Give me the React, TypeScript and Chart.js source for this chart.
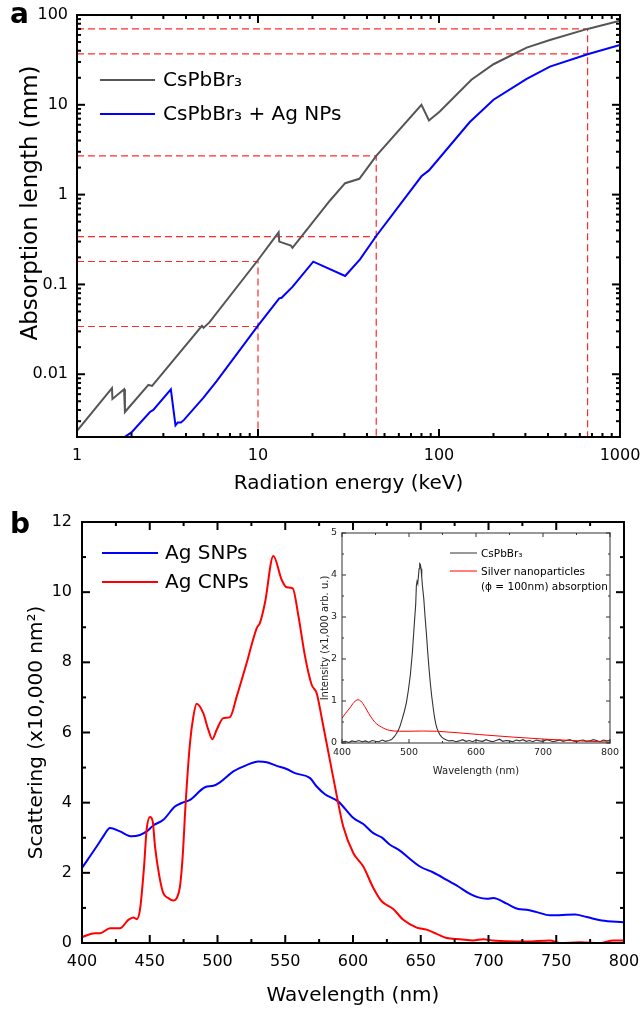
import React, { useEffect, useRef } from 'react';
import { Chart, registerables } from 'chart.js';

Chart.register(...registerables);

const FONT = "'DejaVu Sans', Verdana, sans-serif";

// ---------------- Panel a: absorption length ----------------
const energyPure = [1, 1.56, 1.57, 1.82, 1.84, 2.48, 2.6, 4.9, 5.0, 5.4, 10, 13.0, 13.1, 15.2, 15.5, 25, 30.3, 36.3, 45, 80, 88, 101, 151, 200, 305, 410, 662, 1000];
const lengthPure = [0.00234, 0.007, 0.0053, 0.0068, 0.0038, 0.0076, 0.0074, 0.0345, 0.0328, 0.038, 0.187, 0.38, 0.3, 0.27, 0.256, 0.86, 1.34, 1.5, 2.7, 10.0, 6.7, 8.43, 19.0, 28.3, 43.4, 52.7, 70, 86.5];
const energyAg = [1.8, 2.0, 2.53, 2.64, 3.3, 3.5, 3.6, 3.75, 3.9, 5.0, 5.91, 10, 13.1, 13.5, 15.5, 20.2, 30.3, 36.6, 45, 80, 88, 148, 200, 305, 410, 662, 1000];
const lengthAg = [0.00195, 0.00225, 0.0038, 0.004, 0.0068, 0.0027, 0.0029, 0.0029, 0.0031, 0.0055, 0.0084, 0.0347, 0.0699, 0.071, 0.094, 0.179, 0.124, 0.19, 0.346, 1.6, 1.86, 6.43, 11.4, 19.4, 26.6, 36.6, 46.4];
const guideEnergies = [10, 45, 662];
const guidePure = [0.18, 2.7, 70];
const guideAg = [0.034, 0.34, 37];
const aXMin = 1, aXMax = 1000, aYMin = 0.002, aYMax = 100;
const aXTicks = [1, 10, 100, 1000];
const aYTicks = [0.01, 0.1, 1, 10, 100];
const minorDigits = [2, 3, 4, 5, 6, 7, 8, 9];
const aXDecades = [1, 10, 100];
const aYDecades = [0.001, 0.01, 0.1, 1, 10];

// ---------------- Panel b: scattering ----------------
const wlSNP = [400, 410.8, 415.7, 420.7, 428, 436.7, 442.8, 447.7, 452.6, 460, 468.6, 473.6, 479.7, 490.8, 496.9, 501.8, 511.7, 521.5, 530.1, 536.3, 543.6, 551, 557.2, 568.3, 573.2, 579.3, 589.2, 600.3, 607.6, 615, 621.2, 627.3, 633.5, 649.4, 659.3, 669.1, 677.7, 686.3, 692.5, 698.7, 703.5, 713.4, 722, 728.2, 735.6, 745.4, 763.8, 772.5, 783.5, 799.5];
const scatSNP = [2.14, 2.75, 3.04, 3.28, 3.18, 3.04, 3.08, 3.18, 3.35, 3.51, 3.89, 3.99, 4.08, 4.44, 4.48, 4.58, 4.89, 5.07, 5.17, 5.15, 5.05, 4.96, 4.84, 4.7, 4.46, 4.24, 4.03, 3.56, 3.39, 3.13, 3.01, 2.8, 2.66, 2.18, 2.01, 1.8, 1.61, 1.4, 1.3, 1.26, 1.28, 1.12, 0.97, 0.95, 0.88, 0.79, 0.81, 0.74, 0.64, 0.59];
const wlCNP = [400, 409.6, 413.3, 420.7, 428, 434.2, 437.9, 440.4, 442.8, 445.8, 447.7, 450.2, 452.2, 453.9, 457.1, 460, 463.7, 467.4, 469.9, 472.3, 474.3, 476.5, 479.7, 482.2, 484.6, 489.5, 493.2, 496.2, 499.4, 504.3, 509.2, 514.2, 521.5, 528.9, 531.4, 535, 541.2, 547.4, 551, 555.5, 559.6, 564.6, 569.5, 573.2, 577, 583, 588, 592.8, 600.3, 607.6, 615, 621.2, 629.7, 637.1, 647, 654.3, 661.7, 669.1, 678.9, 688.7, 696.1, 703.5, 713.4, 728.2, 745.4, 752.8, 767.5, 782.3, 792.2, 799.5];
const scatCNP = [0.17, 0.28, 0.28, 0.42, 0.42, 0.66, 0.73, 0.68, 0.95, 2.18, 3.23, 3.59, 3.46, 2.75, 1.9, 1.42, 1.28, 1.21, 1.28, 1.61, 2.47, 3.99, 5.7, 6.46, 6.82, 6.55, 6.08, 5.81, 6.08, 6.41, 6.44, 7.03, 7.98, 8.97, 9.13, 9.69, 11.03, 10.35, 10.14, 10.11, 9.35, 8.17, 7.36, 7.12, 6.4, 5.2, 4.2, 3.32, 2.56, 2.18, 1.57, 1.19, 0.97, 0.66, 0.44, 0.38, 0.26, 0.14, 0.11, 0.07, 0.11, 0.07, 0.05, 0.04, 0.07, 0.0, 0.02, 0.0, 0.07, 0.07];
const bXTicks = [400, 450, 500, 550, 600, 650, 700, 750, 800];
const bXMinor = [425, 475, 525, 575, 625, 675, 725, 775];
const bYTicks = [0, 2, 4, 6, 8, 10, 12];
const bYMinor = [1, 3, 5, 7, 9, 11];

// ---------------- Inset ----------------
const wlPL = [400, 405, 410, 415, 420, 425, 430, 435, 440, 445, 450, 455, 460, 465, 470,
  474, 478, 481, 484, 487, 490, 493, 496, 499, 502, 505, 508, 510, 511, 512, 513, 514, 515, 516, 517,
  518, 519, 520, 522, 524, 526, 528, 530, 532, 534, 536, 538, 540, 542, 544, 546, 549, 552, 556, 560,
  565, 570, 575, 580, 585, 590, 595, 600, 605, 610, 615, 620, 625, 630, 635, 640, 645, 650, 655, 660,
  665, 670, 675, 680, 685, 690, 695, 700, 705, 710, 715, 720, 725, 730, 735, 740, 745, 750, 755, 760,
  765, 770, 775, 780, 785, 790, 795, 800];
const intPL = [0.02, 0.04, 0.01, 0.05, 0.03, 0.06, 0.03, 0.05, 0.02, 0.06, 0.04, 0.03, 0.07, 0.04, 0.06,
  0.08, 0.15, 0.22, 0.3, 0.42, 0.58, 0.75, 0.95, 1.25, 1.62, 2.15, 2.85, 3.3, 3.75, 3.85, 3.8, 3.95, 4.15, 4.27, 4.25,
  4.15, 3.95, 3.75, 3.45, 3.0, 2.6, 2.15, 1.75, 1.4, 1.1, 0.85, 0.62, 0.45, 0.34, 0.26, 0.2, 0.14, 0.1, 0.07, 0.05,
  0.06, 0.03, 0.05, 0.08, 0.04, 0.06, 0.03, 0.07, 0.05, 0.04, 0.08, 0.05, 0.03, 0.06, 0.09, 0.04, 0.06, 0.05, 0.03, 0.07,
  0.05, 0.08, 0.04, 0.06, 0.03, 0.07, 0.05, 0.04, 0.08, 0.06, 0.03, 0.05, 0.07, 0.04, 0.06, 0.08, 0.05, 0.03, 0.06, 0.07,
  0.04, 0.05, 0.08, 0.06, 0.03, 0.07, 0.05, 0.06];
const wlAbs = [400, 405, 411.5, 418, 423.9, 428, 433.9, 440, 446.3, 452, 458.9, 465, 471.3, 478, 486.2, 500, 520, 541, 546, 575.9, 605.7, 655.5, 705.4, 755, 800];
const absAg = [0.59, 0.7, 0.83, 0.97, 1.03, 1.0, 0.87, 0.7, 0.55, 0.45, 0.38, 0.33, 0.3, 0.285, 0.28, 0.28, 0.285, 0.28, 0.275, 0.24, 0.2, 0.14, 0.09, 0.05, 0.02];
const iXTicks = [400, 500, 600, 700, 800];
const iXMinor = [450, 550, 650, 750];
const iYTicks = [0, 1, 2, 3, 4, 5];
const iYMinor = [0.5, 1.5, 2.5, 3.5, 4.5];

const zip = (xs: number[], ys: number[]) => xs.map((x, i) => ({ x, y: ys[i] }));
const logMinor = (decades: number[], lo: number, hi: number) => {
  const out: number[] = [];
  decades.forEach((d) => minorDigits.forEach((m) => { const v = d * m; if (v >= lo * 0.999 && v <= hi * 1.001) out.push(v); }));
  return out;
};

type FrameCfg = {
  xMajor: number[]; xMinor: number[]; yMajor: number[]; yMinor: number[];
  major: number; minor: number; width: number; color: string;
  extra?: (chart: any) => void;
};

function framePlugin(cfg: FrameCfg) {
  return {
    id: 'frameTicks',
    afterDraw(chart: any) {
      const ctx = chart.ctx as CanvasRenderingContext2D;
      const area = chart.chartArea;
      const left = area.left, right = area.right, top = area.top, bottom = area.bottom;
      const xs = chart.scales.x, ys = chart.scales.y;
      const w = cfg.width;
      ctx.save();
      ctx.setLineDash([]);
      ctx.fillStyle = cfg.color;
      const vx = (vals: number[], len: number) => {
        for (const v of vals) {
          const p = xs.getPixelForValue(v);
          ctx.fillRect(p - w / 2, bottom - len, w, len);
          ctx.fillRect(p - w / 2, top, w, len);
        }
      };
      const vy = (vals: number[], len: number) => {
        for (const v of vals) {
          const p = ys.getPixelForValue(v);
          ctx.fillRect(left, p - w / 2, len, w);
          ctx.fillRect(right - len, p - w / 2, len, w);
        }
      };
      vx(cfg.xMajor, cfg.major); vx(cfg.xMinor, cfg.minor);
      vy(cfg.yMajor, cfg.major); vy(cfg.yMinor, cfg.minor);
      ctx.fillRect(left - w / 2, top - w / 2, right - left + w, w);
      ctx.fillRect(left - w / 2, bottom - w / 2, right - left + w, w);
      ctx.fillRect(left - w / 2, top - w / 2, w, bottom - top + w);
      ctx.fillRect(right - w / 2, top - w / 2, w, bottom - top + w);
      ctx.restore();
      if (cfg.extra) { ctx.save(); cfg.extra(chart); ctx.restore(); }
    },
  };
}

function legendItem(ctx: CanvasRenderingContext2D, x1: number, x2: number, y: number, color: string, lw: number, label: string, tx: number, font: string) {
  ctx.strokeStyle = color; ctx.lineWidth = lw; ctx.setLineDash([]);
  ctx.beginPath(); ctx.moveTo(x1, y); ctx.lineTo(x2, y); ctx.stroke();
  ctx.fillStyle = '#000'; ctx.font = font; ctx.textBaseline = 'middle'; ctx.textAlign = 'left';
  ctx.fillText(label, tx, y + 1);
}

function axis(opts: any) {
  return {
    type: opts.type,
    min: opts.min, max: opts.max,
    afterBuildTicks: (s: any) => { s.ticks = opts.ticks.map((v: number) => ({ value: v })); },
    afterFit: (s: any) => {
      if (opts.w !== undefined) s.width = opts.w;
      if (opts.h !== undefined) s.height = opts.h;
      s.paddingLeft = 0; s.paddingRight = 0; s.paddingTop = 0; s.paddingBottom = 0;
    },
    ticks: { autoSkip: false, maxRotation: 0, padding: opts.pad, color: opts.color || '#000', font: { family: FONT, size: opts.tickSize }, callback: (v: any) => String(v) },
    grid: { display: false, drawTicks: false },
    border: { display: false },
    title: { display: opts.title !== undefined, text: opts.title || '', color: opts.color || '#000', font: { family: FONT, size: opts.titleSize }, padding: opts.titlePad },
  };
}

function baseOptions(padding: any, scales: any) {
  return {
    responsive: false,
    animation: false,
    events: [],
    layout: { padding },
    plugins: { legend: { display: false }, tooltip: { enabled: false } },
    elements: { point: { radius: 0 } },
    scales,
  };
}

const aYTitle = 'Absorption length (mm)';
const GUIDE = 'rgba(255,20,20,0.9)';

function configA(): any {
  const datasets: any[] = [
    { data: zip(energyPure, lengthPure), borderColor: '#555555', borderWidth: 2, tension: 0 },
    { data: zip(energyAg, lengthAg), borderColor: '#0000ff', borderWidth: 2, tension: 0 },
  ];
  guideEnergies.forEach((e, i) => {
    datasets.push({ data: [{ x: aXMin, y: guidePure[i] }, { x: e, y: guidePure[i] }, { x: e, y: aYMin }], borderColor: GUIDE, borderWidth: 1.2, borderDash: [7, 4] });
    datasets.push({ data: [{ x: aXMin, y: guideAg[i] }, { x: e, y: guideAg[i] }], borderColor: GUIDE, borderWidth: 1.2, borderDash: [7, 4] });
  });
  return {
    type: 'line',
    data: { datasets },
    options: baseOptions({ top: 15, right: 24, left: 0, bottom: 0 }, {
      x: axis({ type: 'logarithmic', min: aXMin, max: aXMax, ticks: aXTicks, h: 63, pad: 9, tickSize: 16, title: 'Radiation energy (keV)', titleSize: 20, titlePad: { top: 0, bottom: 4 } }),
      y: axis({ type: 'logarithmic', min: aYMin, max: aYMax, ticks: aYTicks, w: 77, pad: 9, tickSize: 16 }),
    }),
    plugins: [framePlugin({
      xMajor: aXTicks, xMinor: logMinor(aXDecades, aXMin, aXMax),
      yMajor: aYTicks, yMinor: logMinor(aYDecades, aYMin, aYMax),
      major: 8, minor: 4, width: 2, color: '#000',
      extra: (chart: any) => {
        const ctx = chart.ctx as CanvasRenderingContext2D;
        const f = `20px ${FONT}`;
        legendItem(ctx, 100, 155, 80, '#555555', 2, 'CsPbBr₃', 163, f);
        legendItem(ctx, 100, 155, 114, '#0000ff', 2, 'CsPbBr₃ + Ag NPs', 163, f);
        ctx.fillStyle = '#000'; ctx.font = `bold 28px ${FONT}`; ctx.textBaseline = 'alphabetic'; ctx.textAlign = 'left';
        ctx.fillText('a', 10, 23);
        ctx.save();
        ctx.translate(37, 203);
        ctx.rotate(-Math.PI / 2);
        ctx.font = `23px ${FONT}`; ctx.textAlign = 'center'; ctx.textBaseline = 'alphabetic';
        ctx.fillText(aYTitle, 0, 0);
        ctx.restore();
      },
    })],
  };
}

function configB(): any {
  return {
    type: 'line',
    data: {
      datasets: [
        { data: zip(wlCNP, scatCNP), borderColor: '#ff0000', borderWidth: 2, cubicInterpolationMode: 'monotone' },
        { data: zip(wlSNP, scatSNP), borderColor: '#0000ff', borderWidth: 2, cubicInterpolationMode: 'monotone' },
      ],
    },
    options: baseOptions({ top: 22, right: 20, left: 0, bottom: 0 }, {
      x: axis({ type: 'linear', min: 400, max: 800, ticks: bXTicks, h: 72, pad: 9, tickSize: 16, title: 'Wavelength (nm)', titleSize: 20, titlePad: { top: 0, bottom: 7 } }),
      y: axis({ type: 'linear', min: 0, max: 12, ticks: bYTicks, w: 82, pad: 10, tickSize: 16, title: 'Scattering (x10,000 nm²)', titleSize: 20, titlePad: { top: 25, bottom: 0 } }),
    }),
    plugins: [framePlugin({
      xMajor: bXTicks, xMinor: bXMinor, yMajor: bYTicks, yMinor: bYMinor,
      major: 8, minor: 4, width: 2, color: '#000',
      extra: (chart: any) => {
        const ctx = chart.ctx as CanvasRenderingContext2D;
        const f = `20px ${FONT}`;
        legendItem(ctx, 102, 158, 53, '#0000ff', 2, 'Ag SNPs', 165, f);
        legendItem(ctx, 102, 158, 82, '#ff0000', 2, 'Ag CNPs', 165, f);
        ctx.fillStyle = '#000'; ctx.font = `bold 28px ${FONT}`; ctx.textBaseline = 'alphabetic'; ctx.textAlign = 'left';
        ctx.fillText('b', 10, 33);
      },
    })],
  };
}

function configInset(): any {
  return {
    type: 'line',
    data: {
      datasets: [
        { data: zip(wlAbs, absAg), borderColor: '#ff0000', borderWidth: 1, cubicInterpolationMode: 'monotone' },
        { data: zip(wlPL, intPL), borderColor: '#333333', borderWidth: 1.1, tension: 0 },
      ],
    },
    options: baseOptions({ top: 13, right: 20, left: 0, bottom: 0 }, {
      x: axis({ type: 'linear', min: 400, max: 800, ticks: iXTicks, h: 37, pad: 4, tickSize: 9.5, color: '#222', title: 'Wavelength (nm)', titleSize: 10, titlePad: { top: 0, bottom: 3 } }),
      y: axis({ type: 'linear', min: 0, max: 5, ticks: iYTicks, w: 42, pad: 5, tickSize: 9.5, color: '#222', title: 'Intensity (x1,000 arb. u.)', titleSize: 10, titlePad: { top: 19, bottom: 0 } }),
    }),
    plugins: [framePlugin({
      xMajor: iXTicks, xMinor: iXMinor, yMajor: iYTicks, yMinor: iYMinor,
      major: 4, minor: 2, width: 1, color: '#333',
      extra: (chart: any) => {
        const ctx = chart.ctx as CanvasRenderingContext2D;
        const f = `10.5px ${FONT}`;
        legendItem(ctx, 150, 177, 33, '#333333', 1, 'CsPbBr₃', 181, f);
        legendItem(ctx, 150, 177, 51, '#ff0000', 1, 'Silver nanoparticles', 181, f);
        ctx.fillStyle = '#000'; ctx.font = f; ctx.textBaseline = 'middle'; ctx.textAlign = 'left';
        ctx.fillText('(ϕ = 100nm) absorption', 181, 67);
      },
    })],
  };
}

function ChartCanvas({ left, top, width, height, make }: { left: number; top: number; width: number; height: number; make: () => any }) {
  const ref = useRef<HTMLCanvasElement | null>(null);
  useEffect(() => {
    if (!ref.current) return;
    const chart = new Chart(ref.current, make());
    return () => chart.destroy();
  }, []);
  return (
    <canvas
      ref={ref}
      width={width}
      height={height}
      style={{ position: 'absolute', left, top, width, height }}
    />
  );
}

export default function App() {
  return (
    <div style={{ position: 'absolute', left: 0, top: 0, width: 644, height: 1015, background: '#fff', overflow: 'hidden' }}>
      <ChartCanvas left={0} top={0} width={644} height={500} make={configA} />
      <ChartCanvas left={0} top={500} width={644} height={515} make={configB} />
      <ChartCanvas left={300} top={520} width={330} height={260} make={configInset} />
    </div>
  );
}
